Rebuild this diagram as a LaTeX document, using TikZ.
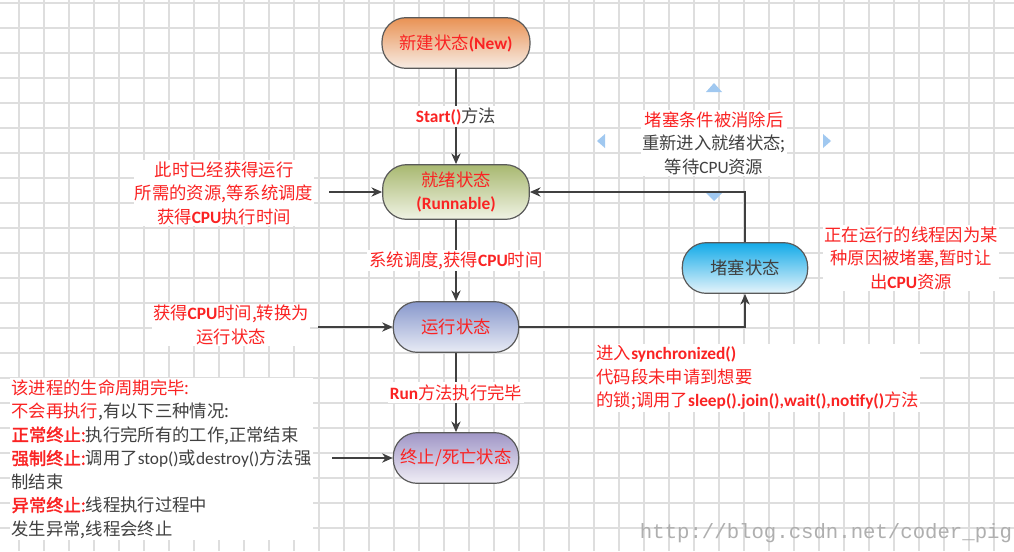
\documentclass[tikz,border=0pt]{standalone}
\usepackage{fontspec}
\setmainfont{Noto Sans CJK SC}[AutoFakeBold=2]
\newfontfamily\lat{Carlito}
\newfontfamily\web{Liberation Mono}
\usetikzlibrary{arrows.meta}
\definecolor{txtred}{RGB}{250,35,35}
\definecolor{txtgray}{RGB}{64,64,64}
\definecolor{boxline}{RGB}{90,90,90}
\definecolor{gridgray}{RGB}{222,222,222}
\definecolor{handleblue}{RGB}{160,200,240}
\definecolor{newtop}{RGB}{233,146,84}
\definecolor{newbot}{RGB}{247,236,228}
\definecolor{rnbtop}{RGB}{168,184,112}
\definecolor{rnbbot}{RGB}{240,243,228}
\definecolor{runtop}{RGB}{136,152,204}
\definecolor{runbot}{RGB}{232,235,245}
\definecolor{endtop}{RGB}{160,150,198}
\definecolor{endbot}{RGB}{240,238,246}
\definecolor{blktop}{RGB}{18,170,232}
\definecolor{blkbot}{RGB}{230,244,251}
\newcommand{\latb}[1]{{\lat\bfseries #1}}
\newcommand{\latr}[1]{{\lat #1}}
\begin{document}
\begin{tikzpicture}[x=0.75pt, y=-0.75pt,
  state/.style={draw=boxline, line width=0.9pt, rounded corners=18pt,
    minimum height=38pt, text=txtred, align=center,
    font=\fontsize{13}{17}\selectfont},
  flow/.style={draw=txtgray, line width=0.9pt, -{Stealth[length=8pt,width=7pt]}},
  lbl/.style={fill=white, inner sep=1.5pt, text=txtred, font=\fontsize{13}{17}\selectfont},
  note/.style={fill=white, inner sep=1pt, text=txtred, align=center,
    font=\fontsize{13}{17.6}\selectfont},
  grid/.style={draw=gridgray, line width=0.8pt},
  handle/.style={fill=handleblue}]
  \useasboundingbox[fill=white] (0,0) rectangle (1014,551);
  % Grid
  \foreach \gx in {19,44,...,994} \draw[grid] (\gx,0) -- (\gx,551);
  \foreach \gy in {3,28,...,528} \draw[grid] (0,\gy) -- (1014,\gy);

  % States
  \node[state, top color=newtop, bottom color=newbot, minimum width=111pt] (new) at (456,43) {新建状态\latb{(New)}};
  \node[state, top color=rnbtop, bottom color=rnbbot, minimum width=110pt, minimum height=41pt] (rnb) at (456,192) {就绪状态\\\latb{(Runnable)}};
  \node[state, top color=runtop, bottom color=runbot, minimum width=94pt] (run) at (456,327) {运行状态};
  \node[state, top color=endtop, bottom color=endbot, minimum width=94pt] (end) at (456,458) {终止/死亡状态};
  \node[state, top color=blktop, bottom color=blkbot, minimum width=94pt, text=txtgray] (blk) at (745,268) {堵塞状态};

  % Main flow
  \draw[flow] (new) -- node[lbl] {\latb{Start()}\textcolor{txtgray}{方法}} (rnb);
  \draw[flow] (rnb) -- node[lbl] {系统调度,获得\latb{CPU}时间} (run);
  \draw[flow] (run) -- node[lbl] {\latb{Run}方法执行完毕} (end);

  % Blocked loop
  \draw[flow] (run.east) -| (blk.south);
  \draw[flow] (blk.north) |- (rnb.east);

  % Incoming arrows
  \coordinate (in1) at (329,192);
  \coordinate (in2) at (318,327);
  \coordinate (in3) at (332,458);
  \draw[flow] (in1) -- (rnb.west);
  \draw[flow] (in2) -- (run.west);
  \draw[flow] (in3) -- (end.west);

  % Notes
  \node[note] (why1) at (224,193) {此时已经获得运行\\所需的资源,等系统调度\\获得\latb{CPU}执行时间};
  \node[note] (why2) at (231,325) {获得\latb{CPU}时间,转换为\\运行状态};
  \node[note] (back) at (714,143) {堵塞条件被消除后\\\textcolor{txtgray}{重新进入就绪状态;}\\\textcolor{txtgray}{等待\latr{CPU}资源}};
  \node[note] (cause) at (911,258) {正在运行的线程因为某\\种原因被堵塞,暂时让\\出\latb{CPU}资源};
  \node[note, align=left, anchor=west] (sync) at (595,378) {进入\latb{synchronized()}\\代码段未申请到想要\\的锁;调用了\latb{sleep().join(),wait(),notify()}方法};
  \node[note, align=left, anchor=west, text=txtgray] (dead) at (10,459) {%
    {\color{txtred}该进程的生命周期完毕:}\\
    {\color{txtred}不会再执行},有以下三种情况:\\
    {\color{txtred}\bfseries 正常终止:}执行完所有的工作,正常结束\\
    {\color{txtred}\bfseries 强制终止:}调用了\latr{stop()}或\latr{destroy()}方法强\\
    制结束\\
    {\color{txtred}\bfseries 异常终止:}线程执行过程中\\
    发生异常,线程会终止};

  % Selection handles
  \fill[handle] (714,83) -- (706,92) -- (722,92) -- cycle;
  \fill[handle] (714,201) -- (706,193) -- (722,193) -- cycle;
  \fill[handle] (597,141) -- (605,134) -- (605,148) -- cycle;
  \fill[handle] (831,141) -- (823,134) -- (823,148) -- cycle;

  % Watermark
  \node[text={rgb,255:red,175;green,175;blue,175}, font=\web\fontsize{15.5}{18}\selectfont] (mark) at (826,533) {http://blog.csdn.net/coder\_pig};
\end{tikzpicture}
\end{document}
